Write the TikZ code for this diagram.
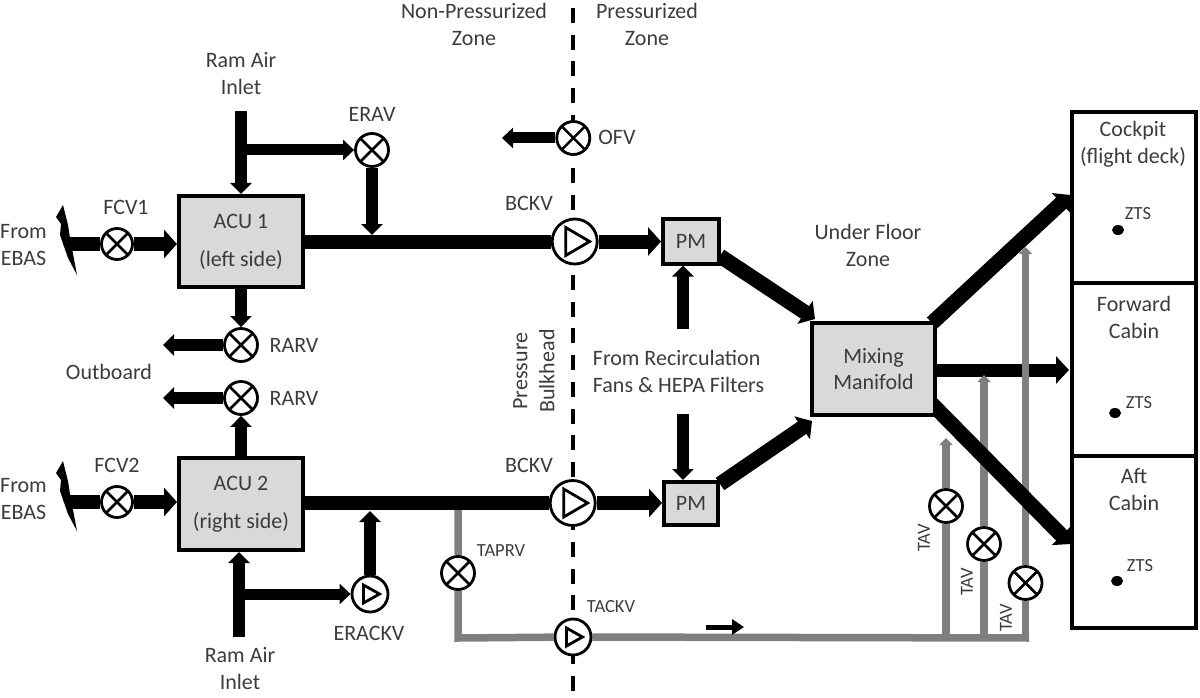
\documentclass[tikz,border=0pt]{standalone}
\usepackage{fontspec}
\setmainfont{Carlito}
\usetikzlibrary{arrows.meta,backgrounds,shapes.geometric}
\definecolor{ink}{RGB}{60,60,60}
\definecolor{boxgray}{RGB}{217,217,217}
\definecolor{pipegray}{RGB}{127,127,127}
\tikzset{
 x=1pt,y=-1pt,
 lbl/.style={text=ink,font=\fontsize{22}{27}\selectfont,align=center,inner sep=0pt},
 smalllbl/.style={text=ink,font=\fontsize{18.5}{20}\selectfont,inner sep=0pt},
 blockbox/.style={draw=black,line width=4pt,fill=boxgray,inner sep=0pt,text=ink,font=\fontsize{22}{38}\selectfont,align=center},
 zonebox/.style={draw=black,line width=4pt,fill=white,inner sep=0pt,outer sep=0pt,anchor=north west,minimum width=124pt},
 valve/.style={circle,draw=black,line width=2.8pt,fill=white,inner sep=0pt,minimum size=#1},
 xvalve/.style={valve=#1,path picture={
   \draw[black,line width=2.5pt] (path picture bounding box.north west)--(path picture bounding box.south east)
    (path picture bounding box.north east)--(path picture bounding box.south west);}},
 bigcheck/.style={valve=45pt,path picture={
   \draw[black,line width=2.8pt,line join=miter] ([shift={(-9pt,-14pt)}]path picture bounding box.center)
    -- ([shift={(15pt,0pt)}]path picture bounding box.center)
    -- ([shift={(-9pt,14pt)}]path picture bounding box.center) -- cycle;}},
 smallcheck/.style={valve=36pt,path picture={
   \draw[black,line width=2.8pt,line join=miter] ([shift={(-6.5pt,-9pt)}]path picture bounding box.center)
    -- ([shift={(9.5pt,0pt)}]path picture bounding box.center)
    -- ([shift={(-6.5pt,9pt)}]path picture bounding box.center) -- cycle;}},
 pipe/.style={draw=black,line width=14pt},
 pipeA/.style={pipe,-{Triangle[length=13pt,width=28pt]}},
 pipeB/.style={draw=black,line width=12pt,-{Triangle[length=11pt,width=21pt]}},
 pipeC/.style={draw=black,line width=11pt,-{Triangle[length=11pt,width=20pt]}},
 diag/.style={draw=black,line width=15pt,-{Triangle[length=12pt,width=27pt]}},
 graypipe/.style={draw=pipegray,line width=7.5pt},
 graypipeA/.style={graypipe,-{Triangle[length=7pt,width=13pt]}},
 bulkhead/.style={draw=black,line width=4.2pt,dash pattern=on 15pt off 11.7pt,dash phase=18.7pt},
 zts/.style={ellipse,fill=black,inner sep=0pt,minimum width=12pt,minimum height=10pt},
}
\begin{document}
\begin{tikzpicture}
\useasboundingbox (0,0) rectangle (1200,698);
% blocks
\node[blockbox,minimum width=124pt,minimum height=91pt] (acu1) at (241,241.5) {ACU 1\\(left side)};
\node[blockbox,minimum width=124pt,minimum height=92pt] (acu2) at (241,504) {ACU 2\\(right side)};
\node[blockbox,minimum width=56pt,minimum height=45pt] (pm1) at (691,241) {PM};
\node[blockbox,minimum width=54pt,minimum height=43pt] (pm2) at (691,503.5) {PM};
\node[blockbox,minimum width=123pt,minimum height=92pt,font=\fontsize{22}{26}\selectfont] (mm) at (873.5,369) {Mixing\\Manifold};
% zones
\node[zonebox,minimum height=171pt] (ck) at (1072,112) {};
\node[zonebox,minimum height=173pt] (fc) at (1072,283) {};
\node[zonebox,minimum height=172pt] (ac) at (1072,456) {};
% valves
\node[xvalve=31pt] (fcv1) at (117,244) {};
\node[xvalve=31pt] (fcv2) at (117,502) {};
\node[xvalve=33pt] (erav) at (372,150) {};
\node[xvalve=33pt] (ofv) at (573.3,138) {};
\node[xvalve=33pt] (rarv1) at (241,345) {};
\node[xvalve=33pt] (rarv2) at (241,398) {};
\node[xvalve=33pt] (taprv) at (458,573) {};
\node[xvalve=33pt] (tav1) at (946,506) {};
\node[xvalve=33pt] (tav2) at (984,544) {};
\node[xvalve=33pt] (tav3) at (1025.5,583) {};
\node[bigcheck] (bckv1) at (574.7,241.5) {};
\node[bigcheck] (bckv2) at (572.7,503) {};
\node[smallcheck] (erackv) at (370,594) {};
\node[smallcheck] (tackv) at (573,637) {};
% free ends
\coordinate (bh1) at (573,0);
\coordinate (bh2) at (573,698);
\coordinate (ramT) at (241,111);
\coordinate (ramTj) at (241,150);
\coordinate (ramB) at (239,637);
\coordinate (ramBj) at (239,594);
\coordinate (jU) at (372,235);
\coordinate (jL) at (370,511);
\coordinate (ebas1) at (68,244);
\coordinate (ebas2) at (68,502);
\coordinate (out1) at (163,345);
\coordinate (out2) at (163,398);
\coordinate (ofvout) at (502,138);
\coordinate (recT) at (683,329);
\coordinate (recB) at (683,414);
\coordinate (tj1) at (458,503);
\coordinate (tj2) at (458,638);
\coordinate (tb1) at (946,638);
\coordinate (tb2) at (984,638);
\coordinate (tb3) at (1029,638);
\coordinate (tt1) at (946,438);
\coordinate (tt2) at (984,375);
\coordinate (tt3) at (1025.5,247);
\coordinate (fa) at (706,627);
\coordinate (fb) at (744,627);
\coordinate (d1a) at (720,256);
\coordinate (d1b) at (815,319);
\coordinate (d2a) at (720,484);
\coordinate (d2b) at (812,421);
\coordinate (o1a) at (932,323);
\coordinate (o1b) at (1070,195);
\coordinate (o2a) at (935,370);
\coordinate (o2b) at (1069,370);
\coordinate (o3a) at (932,404);
\coordinate (o3b) at (1070,544);
% connectors
\begin{scope}[on background layer]
\draw[bulkhead] (bh1)--(bh2);
\draw[diag,line width=13pt,-{Triangle[length=13pt,width=27pt]}] (o2a)--(o2b);
\draw[graypipe] (tj1)--(taprv)--(tj2)--(tackv)--(tb3);
\draw[graypipeA] (tb1)--(tav1)--(tt1);
\draw[graypipeA] (tb2)--(tav2)--(tt2);
\draw[graypipeA] (tb3-|tav3)--(tav3)--(tt3-|tav3);
\draw[pipeB] (ramT)--(acu1.north-|ramT);
\draw[pipeC] (ramTj)--(erav.west);
\draw[pipeB] (erav)--(jU);
\draw[pipe] (acu1.center|-bckv1)--(bckv1);
\draw[pipeA] (bckv1)--(pm1.west|-bckv1);
\draw[pipeA] (ebas1)--(fcv1)--(acu1.west|-fcv1);
\draw[pipeB] (acu1.south)--(rarv1.north);
\draw[pipeB] (rarv1)--(out1);
\draw[pipeB] (rarv2)--(out2);
\draw[pipeB] (acu2.north)--(rarv2.south);
\draw[pipeA] (ebas2)--(fcv2)--(acu2.west|-fcv2);
\draw[pipe] (acu2.center|-bckv2)--(bckv2);
\draw[pipeA] (bckv2)--(pm2.west|-bckv2);
\draw[pipeB] (ramB)--(acu2.south-|ramB);
\draw[pipeC] (ramBj)--(erackv.west);
\draw[pipeB] (erackv)--(jL);
\draw[pipeC] (ofv)--(ofvout);
\draw[pipeB] (recT)--(pm1.south-|recT);
\draw[pipeB] (recB)--(pm2.north-|recB);
\draw[diag] (d1a)--(d1b);
\draw[diag] (d2a)--(d2b);
\draw[diag] (o1a)--(o1b);
\draw[diag] (o3a)--(o3b);
\end{scope}
\draw[draw=black,line width=5pt,-{Triangle[length=12pt,width=15pt]}] (fa)--(fb);
% lightning ends
\fill[black] (63,205)--(56,217)--(61,224)--(60,235)--(68,258)--(77,275)--(70,238)--(68,225)--cycle;
\fill[black] (63,461)--(56,473)--(61,480)--(60,491)--(68,514)--(77,531)--(70,494)--(68,481)--cycle;
% labels
\node[lbl] (t1) at (241,74) {Ram Air\\Inlet};
\node[lbl] (t2) at (240,669) {Ram Air\\Inlet};
\node[lbl] (t3) at (372,114) {ERAV};
\node[lbl] (t4) at (369,633) {ERACKV};
\node[lbl] (t5) at (474,24.5) {Non-Pressurized\\Zone};
\node[lbl] (t6) at (647,24.5) {Pressurized\\Zone};
\node[lbl] (t7) at (617,137) {OFV};
\node[lbl,anchor=west] (t8) at (0,245) {From\\EBAS};
\node[lbl,anchor=west] (t9) at (0,499) {From\\EBAS};
\node[lbl] (t10) at (126,207) {FCV1};
\node[lbl] (t11) at (117,465) {FCV2};
\node[lbl] (t12) at (529,203) {BCKV};
\node[lbl] (t13) at (529,465) {BCKV};
\node[lbl] (t14) at (294,345) {RARV};
\node[lbl] (t15) at (294,398) {RARV};
\node[lbl] (t16) at (109,372) {Outboard};
\node[lbl,rotate=90] (t17) at (534,371) {Pressure\\Bulkhead};
\node[lbl,align=left,anchor=west] (t18) at (592.7,371) {From Recirculation\\Fans \& HEPA Filters};
\node[lbl] (t19) at (868,245.5) {Under Floor\\Zone};
\node[lbl] (t20) at (1133,144) {Cockpit\\(flight deck)};
\node[lbl] (t21) at (1134,317.5) {Forward\\Cabin};
\node[lbl] (t22) at (1134,490) {Aft\\Cabin};
\node[smalllbl] (t23) at (1138,214) {ZTS};
\node[smalllbl] (t24) at (1139,403) {ZTS};
\node[smalllbl] (t25) at (1140,566) {ZTS};
\node[smalllbl] (t26) at (501,551) {TAPRV};
\node[smalllbl] (t27) at (611,607) {TACKV};
\node[smalllbl,rotate=90] (t28) at (924,538) {TAV};
\node[smalllbl,rotate=90] (t29) at (967,582) {TAV};
\node[smalllbl,rotate=90] (t30) at (1006,618) {TAV};
\node[zts] (z1) at (1118,230) {};
\node[zts] (z2) at (1115,413) {};
\node[zts] (z3) at (1117,581) {};
\end{tikzpicture}
\end{document}
